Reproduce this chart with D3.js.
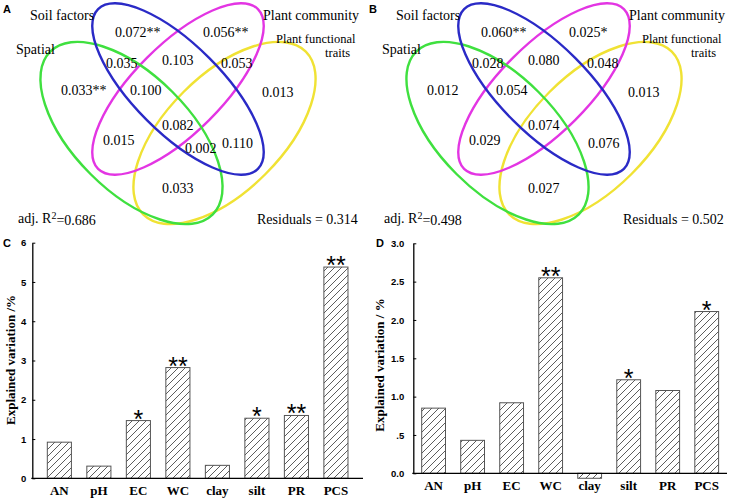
<!DOCTYPE html>
<html lang="en">
<head>
<meta charset="utf-8" />
<script src="https://d3js.org/d3.v7.min.js"></script>
<title>Variation partitioning</title>
<style>
    body { margin: 0; background: #fff; }
    .serif { font-family: 'Liberation Serif', 'Times New Roman', serif; }
    .sans { font-family: 'Liberation Sans', Arial, sans-serif; }
</style>
</head>
<body>
<div id="chart"></div>
<script>
    // Venn panels (A, B)
    var setNames = ["Spatial", "Soil factors", "Plant community", "Plant functional traits"];
    // S = spatial, F = soil factors, C = plant community, T = functional traits
    var vennRegions = ["F", "C", "SF", "FC", "CT", "S", "SFC", "T", "SFCT", "SC", "FT", "SFT", "ST"];
    var vennValuesA = [0.072, 0.056, 0.035, 0.103, 0.053, 0.033, 0.100, 0.013, 0.082, 0.015, 0.110, 0.002, 0.033];
    var vennSigA = ["**", "**", "", "", "", "**", "", "", "", "", "", "", ""];
    var vennValuesB = [0.060, 0.025, 0.028, 0.080, 0.048, 0.012, 0.054, 0.013, 0.074, 0.029, 0.076, null, 0.027];
    var vennSigB = ["**", "*", "", "", "", "", "", "", "", "", "", "", ""];
    var adjR2 = [0.686, 0.498];
    var residuals = [0.314, 0.502];

    // bar panels (C, D)
    var barCategories = ["AN", "pH", "EC", "WC", "clay", "silt", "PR", "PCS"];
    var barValuesC = [0.92, 0.31, 1.47, 2.82, 0.33, 1.53, 1.60, 5.38];
    var barSigC = ["", "", "*", "**", "", "*", "**", "**"];
    var barValuesD = [0.85, 0.43, 0.92, 2.55, -0.065, 1.22, 1.08, 2.11];
    var barSigD = ["", "", "", "**", "", "*", "", "*"];
    var yTicksC = [0, 1, 2, 3, 4, 5, 6];
    var yTickLabelsC = ["0", "1", "2", "3", "4", "5", "6"];
    var yTicksD = [0, 0.5, 1, 1.5, 2, 2.5, 3];
    var yTickLabelsD = ["0.0", ".5", "1.0", "1.5", "2.0", "2.5", "3.0"];

    var svg = d3.select("#chart").append("svg")
        .attr("width", 730)
        .attr("height", 500);

    // hatch pattern for the bars
    var pat = svg.append("defs").append("pattern")
        .attr("id", "hatch")
        .attr("patternUnits", "userSpaceOnUse")
        .attr("width", 7)
        .attr("height", 7);
    pat.append("rect").attr("width", 7).attr("height", 7).attr("fill", "#fff");
    pat.append("path")
        .attr("d", "M-1,1 l2,-2 M0,7 l7,-7 M6,8 l2,-2")
        .attr("stroke", "#333")
        .attr("stroke-width", 0.8);

    // ---------- Venn diagrams ----------
    var ellipses = [
        { set: 3, cx: 224.5, cy: 133, rx: 115, ry: 58, angle: -45, color: "#f0e234" },
        { set: 2, cx: 178, cy: 89, rx: 113, ry: 44, angle: -45, color: "#e335e3" },
        { set: 0, cx: 131.5, cy: 133, rx: 115, ry: 58, angle: 45, color: "#3fe03f" },
        { set: 1, cx: 178, cy: 89, rx: 113, ry: 44, angle: 45, color: "#2a2ac6" }
    ];
    // left edge / vertical centre of each region label
    var regionPos = {
        F: [115, 32], C: [203, 32], SF: [106, 63], FC: [162, 60], CT: [221, 63],
        S: [61, 90], SFC: [130, 90], T: [262, 92], SFCT: [162, 125], SC: [103, 140],
        FT: [222, 143], SFT: [185, 148], ST: [162, 188]
    };

    function drawVenn(ox, letter, values, sig, r2, resid) {
        var g = svg.append("g").attr("transform", "translate(" + ox + ",0)");

        g.selectAll("ellipse")
            .data(ellipses)
            .enter()
            .append("ellipse")
            .attr("transform", function(d) { return "translate(" + d.cx + "," + d.cy + ") rotate(" + d.angle + ")"; })
            .attr("rx", function(d) { return d.rx; })
            .attr("ry", function(d) { return d.ry; })
            .attr("fill", "none")
            .attr("stroke", function(d) { return d.color; })
            .attr("stroke-width", 2.4);

        var labels = vennRegions.map(function(k, i) {
            return { key: k, value: values[i], sig: sig[i] };
        }).filter(function(d) { return d.value !== null; });

        g.selectAll("text.region")
            .data(labels)
            .enter()
            .append("text")
            .attr("class", "region serif")
            .attr("x", function(d) { return regionPos[d.key][0]; })
            .attr("y", function(d) { return regionPos[d.key][1]; })
            .attr("dy", "0.35em")
            .style("font-size", "14px")
            .text(function(d) { return d3.format(".3f")(d.value) + d.sig; });

        var setText = [
            { t: setNames[1], x: 30, y: 15 },
            { t: setNames[2], x: 263, y: 15 },
            { t: setNames[0], x: 16, y: 49 },
            { t: "Residuals = " + d3.format(".3f")(resid), x: 257, y: 219 }
        ];
        g.selectAll("text.setname")
            .data(setText)
            .enter()
            .append("text")
            .attr("class", "setname serif")
            .attr("x", function(d) { return d.x; })
            .attr("y", function(d) { return d.y; })
            .attr("dy", "0.33em")
            .style("font-size", "14px")
            .text(function(d) { return d.t; });

        // two-line label for the traits set
        var tr = g.append("text").attr("class", "serif")
            .attr("y", 38.5).attr("dy", "0.33em")
            .style("font-size", "12.5px");
        tr.append("tspan").attr("x", 276).text("Plant functional");
        tr.append("tspan").attr("x", 325).attr("dy", 14.5).text("traits");

        var r = g.append("text").attr("class", "serif")
            .attr("x", 18).attr("y", 218).attr("dy", "0.35em")
            .style("font-size", "14px");
        r.append("tspan").text("adj. R");
        r.append("tspan").attr("dy", "-0.4em").style("font-size", "10px").text("2");
        r.append("tspan").attr("dy", "0.4em").text("=" + d3.format(".3f")(r2));

        svg.append("text").attr("class", "sans")
            .attr("x", ox + 3).attr("y", 13)
            .style("font-size", "11px").style("font-weight", "bold")
            .text(letter);
    }

    drawVenn(0, "A", vennValuesA, vennSigA, adjR2[0], residuals[0]);
    drawVenn(366, "B", vennValuesB, vennSigB, adjR2[1], residuals[1]);

    // ---------- bar charts ----------
    function drawBars(opt) {
        var x = d3.scaleBand()
            .domain(barCategories)
            .range([opt.x0, opt.x1])
            .paddingInner(0.39)
            .paddingOuter(opt.outer);
        var y = d3.scaleLinear()
            .domain([0, opt.ymax])
            .range([opt.y0, opt.ytop]);

        var data = barCategories.map(function(c, i) {
            return { cat: c, value: opt.values[i], sig: opt.sig[i] };
        });

        svg.selectAll("rect.bar" + opt.letter)
            .data(data)
            .enter()
            .append("rect")
            .attr("class", "bar" + opt.letter)
            .attr("x", function(d) { return x(d.cat); })
            .attr("width", x.bandwidth())
            .attr("y", function(d) { return y(Math.max(0, d.value)); })
            .attr("height", function(d) { return Math.abs(y(d.value) - y(0)); })
            .attr("fill", "url(#hatch)")
            .attr("stroke", "#555")
            .attr("stroke-width", 1);

        svg.selectAll("text.sig" + opt.letter)
            .data(data.filter(function(d) { return d.sig; }))
            .enter()
            .append("text")
            .attr("class", "sig" + opt.letter + " sans")
            .attr("x", function(d) { return x(d.cat) + x.bandwidth() / 2; })
            .attr("y", function(d) { return y(d.value) + 7; })
            .attr("text-anchor", "middle")
            .style("font-size", "25px")
            .text(function(d) { return d.sig; });

        // x axis line
        svg.append("line")
            .attr("x1", opt.x0 - 1).attr("x2", opt.x1)
            .attr("y1", y(0)).attr("y2", y(0))
            .attr("stroke", "#000").attr("stroke-width", 1.3);

        svg.selectAll("text.cat" + opt.letter)
            .data(barCategories)
            .enter()
            .append("text")
            .attr("class", "cat" + opt.letter + " serif")
            .attr("x", function(d) { return x(d) + x.bandwidth() / 2; })
            .attr("y", y(0) + 17)
            .attr("text-anchor", "middle")
            .style("font-size", "13px")
            .style("font-weight", "bold")
            .text(function(d) { return d; });

        var yAxis = d3.axisLeft(y)
            .tickValues(opt.ticks)
            .tickFormat(function(d, i) { return opt.tickLabels[i]; })
            .tickSizeInner(-3)
            .tickSizeOuter(0)
            .tickPadding(opt.pad);
        var ga = svg.append("g")
            .attr("transform", "translate(" + opt.x0 + ",0)")
            .call(yAxis);
        ga.select(".domain").attr("stroke-width", 1.3);
        ga.selectAll("text")
            .attr("class", "sans")
            .style("font-size", "9.5px")
            .style("font-weight", "bold");

        svg.append("text")
            .attr("class", "serif")
            .attr("transform", "translate(" + opt.titleX + "," + opt.titleY + ") rotate(-90)")
            .attr("text-anchor", "middle")
            .attr("dy", "0.35em")
            .style("font-size", "13px")
            .style("font-weight", "bold")
            .text(opt.title);

        svg.append("text").attr("class", "sans")
            .attr("x", opt.letterX).attr("y", 247)
            .style("font-size", "11px").style("font-weight", "bold")
            .text(opt.letter);
    }

    drawBars({
        letter: "C", values: barValuesC, sig: barSigC,
        x0: 32.3, x1: 363, outer: 0.38, y0: 478.3, ytop: 242.7, ymax: 6,
        ticks: yTicksC, tickLabels: yTickLabelsC, pad: 6,
        title: "Explained variation /%", titleX: 10, titleY: 360, letterX: 3
    });
    drawBars({
        letter: "D", values: barValuesD, sig: barSigD,
        x0: 413.3, x1: 727, outer: 0.215, y0: 473.3, ytop: 243.3, ymax: 3,
        ticks: yTicksD, tickLabels: yTickLabelsD, pad: 9,
        title: "Explained variation / %", titleX: 379, titleY: 365, letterX: 376
    });
</script>
</body>
</html>
